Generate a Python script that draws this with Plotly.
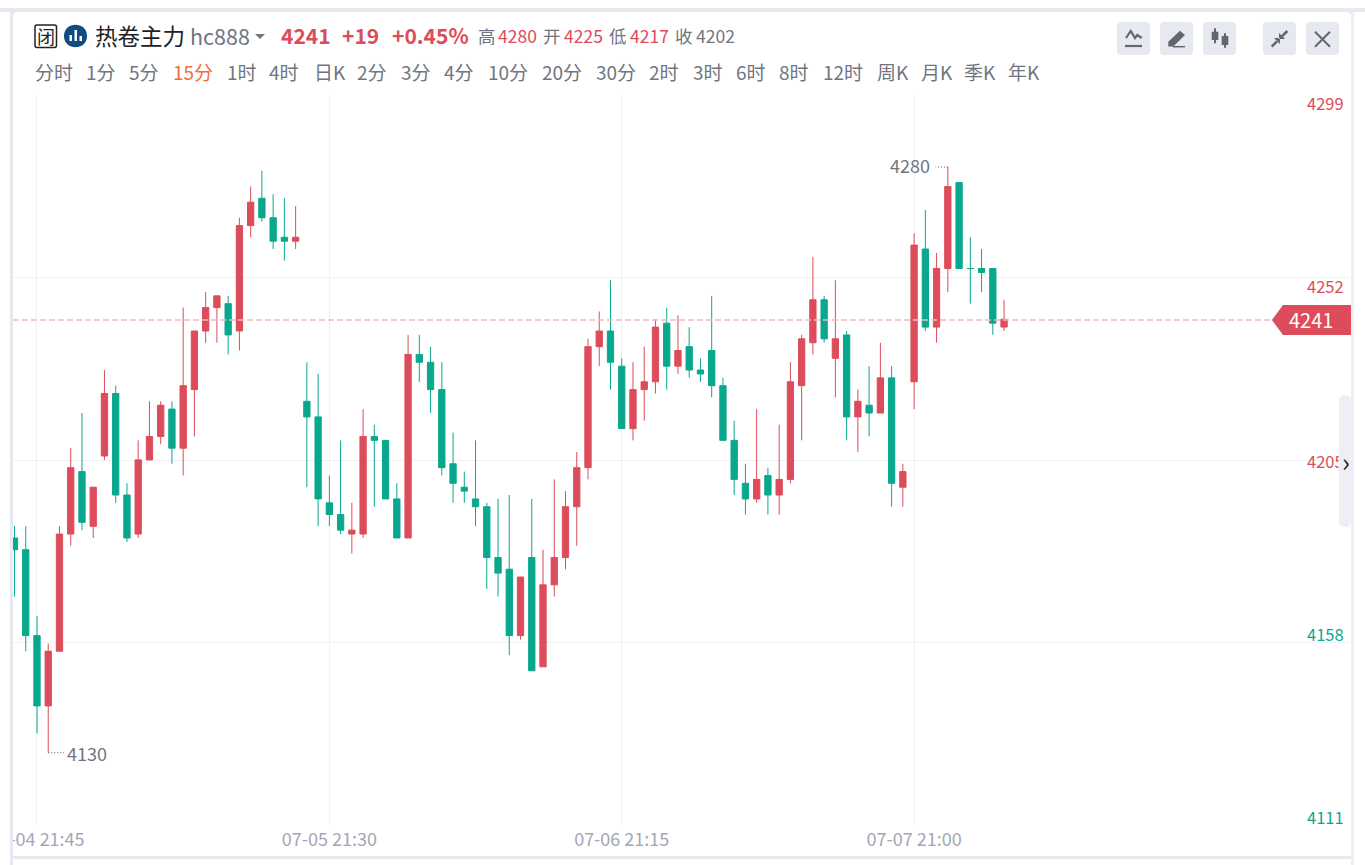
import plotly.graph_objects as go

W, H = 1365, 865
RED = "#dc4c5a"
GREEN = "#09a88e"
GRID = "#f0f1f5"
BAND = "#e6e9f0"
GRAY = "#70757f"
FONT = "Noto Sans CJK SC"

# 15 minute bars
opens = [4185, 4182, 4160, 4142, 4156, 4186, 4202, 4188, 4206, 4222, 4196, 4186, 4205, 4211, 4218, 4208, 4223, 4238, 4244, 4245, 4238, 4265, 4272, 4267, 4262, 4261,
         4220, 4216, 4194, 4191, 4186, 4186, 4211, 4210, 4195, 4185, 4232, 4230, 4223, 4204, 4198, 4195, 4193, 4180, 4177, 4160, 4180, 4152, 4173, 4180, 4193, 4203,
         4234, 4238, 4229, 4213, 4223, 4225, 4240, 4229, 4234, 4228, 4233, 4224, 4210, 4199, 4195, 4201, 4196, 4200, 4224, 4235, 4246, 4231, 4237, 4216, 4219, 4217, 4226, 4198, 4225, 4259, 4239, 4254, 4276, 4254, 4254, 4254, 4239]
highs = [4188, 4188, 4165, 4158, 4188, 4208, 4217, 4198, 4228, 4224, 4199, 4210, 4220, 4220, 4220, 4244, 4238, 4248, 4247, 4247, 4267, 4275, 4279, 4273, 4272, 4270,
         4230, 4227, 4201, 4210, 4194, 4218, 4214, 4210, 4199, 4237, 4237, 4234, 4230, 4212, 4202, 4210, 4194, 4195, 4196, 4175, 4195, 4182, 4200, 4197, 4207, 4236,
         4243, 4251, 4231, 4230, 4234, 4241, 4244, 4242, 4239, 4231, 4247, 4226, 4215, 4204, 4218, 4203, 4214, 4230, 4237, 4257, 4247, 4251, 4238, 4223, 4229, 4235, 4229, 4204, 4263, 4269, 4258, 4280, 4276, 4262, 4259, 4254, 4246]
lows = [4170, 4156, 4135, 4130, 4156, 4183, 4187, 4185, 4205, 4194, 4184, 4185, 4205, 4209, 4204, 4201, 4211, 4235, 4235, 4232, 4233, 4262, 4266, 4259, 4256, 4259,
        4198, 4188, 4188, 4186, 4181, 4185, 4193, 4195, 4185, 4185, 4225, 4217, 4201, 4194, 4194, 4188, 4172, 4170, 4155, 4159, 4151, 4152, 4170, 4177, 4183, 4200,
        4229, 4223, 4213, 4210, 4215, 4222, 4223, 4227, 4226, 4225, 4221, 4210, 4196, 4191, 4194, 4191, 4191, 4199, 4210, 4232, 4235, 4221, 4210, 4207, 4211, 4217, 4193, 4193, 4218, 4238, 4235, 4248, 4254, 4245, 4248, 4237, 4238]
closes = [4182, 4160, 4142, 4156, 4186, 4203, 4189, 4198, 4222, 4196, 4185, 4205, 4211, 4219, 4208, 4224, 4238, 4244, 4247, 4237, 4265, 4271, 4267, 4261, 4261, 4262,
          4216, 4195, 4191, 4187, 4187, 4211, 4210, 4195, 4185, 4232, 4230, 4223, 4203, 4199, 4197, 4193, 4180, 4176, 4160, 4175, 4151, 4173, 4180, 4193, 4203, 4234,
          4238, 4230, 4213, 4223, 4225, 4239, 4229, 4233, 4228, 4227, 4224, 4210, 4200, 4195, 4200, 4196, 4200, 4225, 4236, 4246, 4236, 4236, 4216, 4220, 4217, 4226, 4199, 4202, 4260, 4239, 4254, 4275, 4254, 4254, 4253, 4240, 4241]
bar_index = list(range(len(opens)))

date_ticks = [2, 28, 54, 80]
date_labels = ["07-04 21:45", "07-05 21:30", "07-06 21:15", "07-07 21:00"]
price_ticks = [4298.2, 4251.6, 4204.8, 4158.2, 4111.7]
price_labels = ["4299", "4252", "4205", "4158", "4111"]
last_price = 4241

periods = ["分时", "1分", "5分", "15分", "1时", "4时", "日K", "2分", "3分", "4分", "10分", "20分", "30分",
           "2时", "3时", "6时", "8时", "12时", "周K", "月K", "季K", "年K"]
period_x = [53.5, 100.5, 144, 192.5, 241.5, 284, 329.5, 372, 415.5, 459, 507.5, 561.5, 615.5,
            663.5, 707.5, 750.5, 794, 843, 892.5, 936.5, 979.5, 1023.5]

fig = go.Figure()
fig.add_trace(go.Candlestick(
    x=bar_index, open=opens, high=highs, low=lows, close=closes,
    increasing=dict(line=dict(color=RED, width=1), fillcolor=RED),
    decreasing=dict(line=dict(color=GREEN, width=1), fillcolor=GREEN),
    hoverinfo="skip", showlegend=False,
))


# pixel positions in the window go through the hidden x2/y2 axes
def text(x, y, s, size=17, color=GRAY, anchor="center", bold=False, **kw):
    fig.add_annotation(
        xref="x2", yref="y2", x=x, y=y - 1, text=f"<b>{s}</b>" if bold else s, showarrow=False,
        xanchor=anchor, yanchor="middle", borderpad=0,
        font=dict(family=FONT, size=size, color=color), **kw,
    )


def shape_path(d, fill=None, line=None, width=0, **kw):
    fig.add_shape(type="path", xref="x2", yref="y2", path=d, fillcolor=fill,
                  line=dict(color=line, width=width), layer="above", **kw)


def rect(x0, y0, x1, y1, fill):
    fig.add_shape(type="rect", xref="x2", yref="y2", x0=x0, y0=y0, x1=x1, y1=y1,
                  fillcolor=fill, line=dict(width=0), layer="above")


def round_rect(x0, y0, x1, y1, r):
    return (f"M{x0+r},{y0} L{x1-r},{y0} Q{x1},{y0} {x1},{y0+r} L{x1},{y1-r} Q{x1},{y1} {x1-r},{y1} "
            f"L{x0+r},{y1} Q{x0},{y1} {x0},{y1-r} L{x0},{y0+r} Q{x0},{y0} {x0+r},{y0} Z")


# page frame around the card
rect(0, 0, 10, H, "white")
rect(10, 12, 13, H, BAND)
rect(0, 8, W, 12, BAND)
rect(1351, 12, 1354, H, "#eeeff5")
rect(1354, 12, W, H, "white")
rect(13, 856, 1351, 859, BAND)
rect(13, 859, 1351, H, "white")
shape_path("M13,12 L18,12 Q13,12 13,17 Z", fill=BAND)
shape_path("M1351,12 L1346,12 Q1351,12 1351,17 Z", fill=BAND)

# last price line and tag
fig.add_shape(type="line", xref="paper", yref="y", x0=13 / W, x1=1272 / W, y0=last_price - 0.2, y1=last_price - 0.2,
              line=dict(color="#f2b8bd", width=1.5, dash="6px,3px"), layer="above")
shape_path("M1272,320 L1283,305 L1351,305 L1351,335 L1283,335 Z", fill=RED)

# scrollbar handle
shape_path(round_rect(1339, 395, 1351, 527, 6), fill="#eeeff4")

# high and low markers
fig.add_shape(type="line", xref="x", yref="y", x0=83, x1=81.9, y0=4280, y1=4280,
              line=dict(color="#555", width=1, dash="1px,2px"), layer="above")
fig.add_shape(type="line", xref="x", yref="y", x0=3, x1=4.4, y0=4130, y1=4130,
              line=dict(color="#555", width=1, dash="1px,2px"), layer="above")
fig.add_annotation(xref="x", yref="y", x=82, y=4280, text="4280", showarrow=False, xanchor="right", xshift=-5, yshift=2,
                   font=dict(family=FONT, size=18, color=GRAY))
fig.add_annotation(xref="x", yref="y", x=4.4, y=4130, text="4130", showarrow=False, xanchor="left", xshift=1, yshift=0,
                   font=dict(family=FONT, size=18, color=GRAY))

# header row
shape_path(round_rect(35, 25, 56.5, 47.5, 2), line="#222", width=1.5)
text(45.7, 37, "闭", size=18, color="#222")
shape_path("M64,36 C64,21 87,21 87,36 C87,51 64,51 64,36 Z", fill="#0f4c81")
rect(69.5, 35, 72, 41, "white")
rect(74.5, 30, 77, 41, "white")
rect(79.5, 36, 82, 41, "white")
text(93.5, 36, "热卷主力", size=22.5, color="#222", anchor="left")
text(188.5, 36, "hc888", size=21.5, anchor="left")
shape_path("M255,34 L265,34 L260,39 Z", fill=GRAY)
text(280, 36, "4241", size=21, color=RED, anchor="left", bold=True)
text(341, 36, "+19", size=21, color=RED, anchor="left", bold=True)
text(391, 36, "+0.45%", size=21, color=RED, anchor="left", bold=True)
for lx, name, vx, value, color in [(477, "高", 497, "4280", RED), (542, "开", 563, "4225", RED),
                                   (608, "低", 629, "4217", RED), (674, "收", 695, "4202", GRAY)]:
    text(lx, 36.5, name, size=17.5, anchor="left")
    text(vx, 36.5, value, size=17.5, color=color, anchor="left")

# period row
for x, p in zip(period_x, periods):
    text(x, 72.5, p, size=19, color="#f56a35" if p == "15分" else GRAY)

# toolbar buttons
for x0 in [1117, 1160, 1203, 1263, 1306]:
    shape_path(round_rect(x0, 22, x0 + 33, 55, 4), fill=BAND)
ICON = "#63666f"
shape_path("M1126,38 L1130.7,31 L1135,38 L1137.3,35 L1141.7,38", line=ICON, width=2.2)
shape_path("M1125,46 L1142,46", line=ICON, width=2.2)
shape_path("M1168.3,46.5 L1168.3,41.7 L1180,30.7 L1185,35 L1173.3,46.5 Z", fill=ICON)
shape_path("M1173,46.7 L1185,46.7", line=ICON, width=1.5)
shape_path("M1215,28.3 L1215,43.3 M1225,33.3 L1225,47.7", line=ICON, width=2)
rect(1211.7, 31.7, 1218.3, 40, ICON)
rect(1221.7, 36, 1228.3, 45, ICON)
shape_path("M1271.7,46.7 L1277,41.4 M1287.3,31 L1282,36.3", line=ICON, width=2.5)
shape_path("M1274,38 L1280,38 L1280,44 Z M1279,33 L1279,39 L1285,39 Z", fill=ICON)
shape_path("M1315,31.7 L1330,46.7 M1330,31.7 L1315,46.7", line=ICON, width=2)

# price scale labels
label_y = [104, 287, 462, 635, 818]
for s, y in zip(price_labels, label_y):
    text(1345, y, s, size=16.5, color=RED if int(s) > 4200 else GREEN, anchor="right")
fig.add_annotation(xref="x2", yref="y2", x=1345, y=461, text=" ", showarrow=False, width=12, height=18,
                   bgcolor="#eeeff4", borderpad=0)
text(1345.5, 461, "›", size=26, color="#222")
text(1311, 320, str(last_price), size=20, color="white")

fig.update_layout(
    width=W, height=H, margin=dict(l=0, r=0, t=0, b=0, autoexpand=False), paper_bgcolor="white", plot_bgcolor="rgba(0,0,0,0)",
    hovermode=False, showlegend=False, boxgap=0.2,
    font=dict(family=FONT),
    xaxis=dict(
        domain=[13 / W, 1349 / W], range=[(13 - 14.5) / 11.245, (1349 - 14.5) / 11.245],
        tickmode="array", tickvals=date_ticks, ticktext=date_labels, showgrid=True, gridcolor=GRID, gridwidth=1,
        zeroline=False, showline=False, ticks="", tickfont=dict(family=FONT, size=18, color="#a3a7b5"),
        rangeslider=dict(visible=False), fixedrange=True, ticklabelstandoff=2, ticklabeloverflow="allow",
    ),
    yaxis=dict(
        domain=[1 - 825 / H, 1 - 95 / H], range=[4280 - 658 / 3.905, 4280 + 72 / 3.905],
        tickmode="array", tickvals=price_ticks, showticklabels=False, showgrid=True, gridcolor=GRID, gridwidth=1,
        zeroline=False, showline=False, ticks="", fixedrange=True,
    ),
    xaxis2=dict(domain=[0, 1], range=[0, W], visible=False, anchor="y2", fixedrange=True),
    yaxis2=dict(domain=[0, 1], range=[H, 0], visible=False, anchor="x2", fixedrange=True),
)

fig.write_html("out.html", config={"displayModeBar": False},
               post_script="document.body.style.margin='0';document.body.style.overflow='hidden';")
